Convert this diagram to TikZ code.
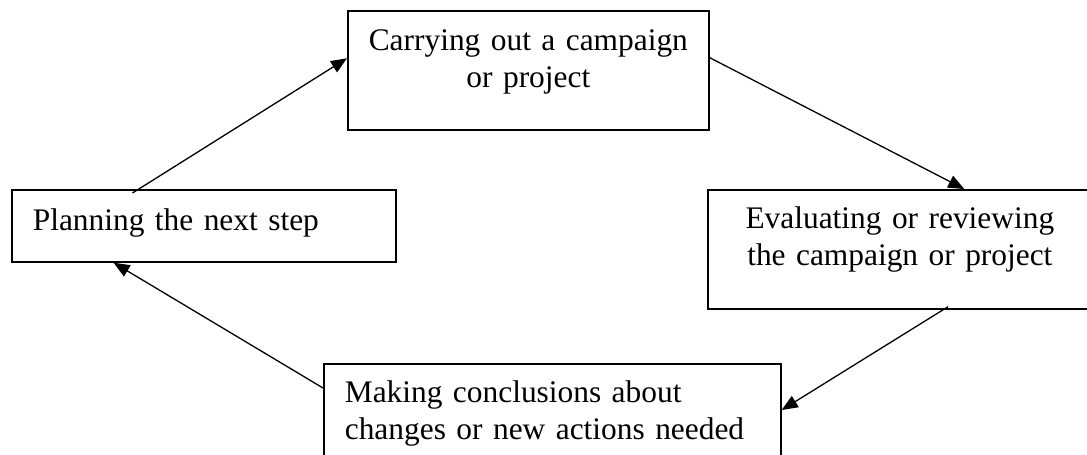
\documentclass[tikz,border=0pt]{standalone}
\usepackage{fontspec}
\setmainfont{Liberation Serif}
\usetikzlibrary{arrows.meta,calc}

\begin{document}
\begin{tikzpicture}[x=0.5pt,y=-0.5pt,
  stage/.style={draw=black,line width=0.85pt,inner ysep=0pt,inner xsep=10.5pt,anchor=north west,font=\fontsize{15.7pt}{18.4pt}\selectfont},
  arrow/.style={-{Triangle[length=8pt,width=6.5pt]},line width=0.65pt,draw=black}
]
\useasboundingbox (0,0) rectangle (1087,455);
\fill[white] (0,0) rectangle (1087,455);
\clip (0,0) rectangle (1087,455);
% the four stages of the cycle
\node[stage,align=left,text width=171pt,text height=20.5pt,text depth=15.5pt] (plan) at (11,189) {Planning the next step};
\node[stage,align=center,inner xsep=5pt,text width=170.5pt,text height=20pt,text depth=39.5pt] (carry) at (347,10) {Carrying out a campaign\\or project};
\node[stage,align=center,inner xsep=5pt,text width=182pt,text height=19.5pt,text depth=40pt] (eval) at (707,189) {Evaluating or reviewing\\the campaign or project};
\node[stage,align=left,text width=207.5pt,text height=19.5pt,text depth=55pt] (concl) at (323,363) {Making conclusions about\\changes or new actions needed};
% arrows round the cycle
\draw[arrow] ($(plan.north west)!0.315!(plan.north east)+(0,4)$) -- ($(carry.north west)!0.4!(carry.south west)$);
\draw[arrow] ($(carry.north east)!0.395!(carry.south east)$) -- ($(eval.north west)!0.667!(eval.north east)$);
\draw[arrow] ($(eval.south west)!0.625!(eval.south east)+(0,-3)$) -- ($(concl.north east)+(0,47)$);
\draw[arrow] ($(concl.north west)+(0,25)$) -- ($(plan.south west)!0.266!(plan.south east)$);
\end{tikzpicture}
\end{document}
